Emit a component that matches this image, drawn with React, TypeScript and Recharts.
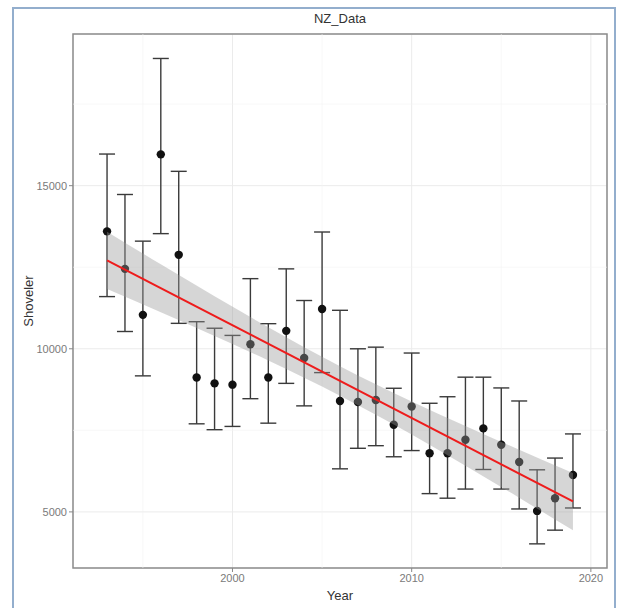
import React from 'react';
import {
  ComposedChart, Scatter, ErrorBar, Area, Line, XAxis, YAxis,
  CartesianGrid, ReferenceLine, ReferenceArea,
} from 'recharts';

// survey counts per year, with the interval ends
const years = [1993, 1994, 1995, 1996, 1997, 1998, 1999, 2000, 2001, 2002, 2003, 2004, 2005, 2006,
  2007, 2008, 2009, 2010, 2011, 2012, 2013, 2014, 2015, 2016, 2017, 2018, 2019];
const counts = [13600, 12450, 11040, 15960, 12880, 9120, 8940, 8900, 10140, 9120, 10550, 9720, 11220, 8400,
  8370, 8430, 7670, 8230, 6800, 6800, 7210, 7560, 7060, 6530, 5030, 5420, 6130];
const lower = [11600, 10530, 9170, 13530, 10780, 7700, 7520, 7620, 8470, 7720, 8940, 8250, 9270, 6320,
  6950, 7030, 6690, 6880, 5560, 5420, 5700, 6300, 5700, 5090, 4020, 4440, 5120];
const upper = [15970, 14730, 13300, 18900, 15440, 10830, 10630, 10410, 12150, 10770, 12450, 11480, 13580, 11180,
  10000, 10050, 8790, 9870, 8330, 8530, 9130, 9130, 8800, 8400, 6290, 6650, 7390];

// fitted trend and its confidence band
const fitYears = [1993, 2019];
const fitValues = [12710, 5320];
const bandYears = [1993, 1996, 1999, 2002, 2006, 2010, 2013, 2016, 2019];
const bandLow = [11830, 11120, 10395, 9640, 8560, 7370, 6415, 5435, 4435];
const bandHigh = [13590, 12590, 11610, 10660, 9465, 8385, 7630, 6905, 6195];

const xTicks = [2000, 2010, 2020];
const yTicks = [5000, 10000, 15000];
const xMinor = [1995, 2005, 2015];
const yMinor = [7500, 12500, 17500];

const points = years.map((year, i) => ({
  year,
  count: counts[i],
  err: [counts[i] - lower[i], upper[i] - counts[i]],
}));
const fit = fitYears.map((year, i) => ({ year, fit: fitValues[i] }));
const band = bandYears.map((year, i) => ({ year, band: [bandLow[i], bandHigh[i]] }));

const X_DOMAIN: [number, number] = [1991.1, 2020.9];
const Y_DOMAIN: [number, number] = [3280, 19650];
const font = '"Liberation Sans", Arial, sans-serif';
const tickStyle = { fill: '#7a7a7a', fontSize: 11, fontFamily: font };

const Dot = (p: any) => <circle cx={p.cx} cy={p.cy} r={4.2} fill="#111" />;

export default function App() {
  return (
    <div style={{ position: 'absolute', left: 0, top: 0, width: 618, height: 608, background: '#fff', overflow: 'hidden', fontFamily: font }}>
      <div style={{ position: 'absolute', left: 12, top: 7, width: 600, height: 640, border: '2px solid #93aecd' }} />
      <div style={{ position: 'absolute', left: 73, width: 534, top: 11, textAlign: 'center', fontSize: 13, lineHeight: '16px', color: '#333' }}>
        NZ_Data
      </div>
      <ComposedChart width={618} height={608} margin={{ top: 34, right: 11, bottom: 0, left: 0 }}>
        <CartesianGrid stroke="#ebebeb" strokeWidth={1} />
        {xMinor.map((v) => (
          <ReferenceLine key={'x' + v} x={v} stroke="#f3f3f3" strokeWidth={0.6} />
        ))}
        {yMinor.map((v) => (
          <ReferenceLine key={'y' + v} y={v} stroke="#f3f3f3" strokeWidth={0.6} />
        ))}
        <XAxis
          type="number"
          dataKey="year"
          domain={X_DOMAIN}
          ticks={xTicks}
          allowDataOverflow
          height={40}
          axisLine={false}
          tickLine={{ stroke: '#888' }}
          tickSize={4}
          tick={tickStyle}
          label={{ value: 'Year', position: 'insideBottom', offset: 8, style: { fill: '#333', fontSize: 13, fontFamily: font } }}
        />
        <YAxis
          type="number"
          domain={Y_DOMAIN}
          ticks={yTicks}
          allowDataOverflow
          width={73}
          axisLine={false}
          tickLine={{ stroke: '#888' }}
          tickSize={4}
          tick={tickStyle}
          label={{ value: 'Shoveler', angle: -90, position: 'insideLeft', offset: 28, style: { fill: '#333', fontSize: 13, fontFamily: font, textAnchor: 'middle' } }}
        />
        <Scatter data={points} dataKey="count" shape={Dot} isAnimationActive={false}>
          <ErrorBar dataKey="err" direction="y" width={8} stroke="#3a3a3a" strokeWidth={1.4} />
        </Scatter>
        <Area
          data={band}
          dataKey="band"
          type="monotone"
          stroke="none"
          fill="#999999"
          fillOpacity={0.4}
          isAnimationActive={false}
          zIndex={650}
        />
        <Line
          data={fit}
          dataKey="fit"
          stroke="#ee1c1c"
          strokeWidth={2}
          dot={false}
          activeDot={false}
          isAnimationActive={false}
          zIndex={700}
        />
        <ReferenceArea
          x1={X_DOMAIN[0]}
          x2={X_DOMAIN[1]}
          y1={Y_DOMAIN[0]}
          y2={Y_DOMAIN[1]}
          fill="none"
          stroke="#8c8c8c"
          strokeWidth={1.5}
          ifOverflow="visible"
        />
      </ComposedChart>
    </div>
  );
}
